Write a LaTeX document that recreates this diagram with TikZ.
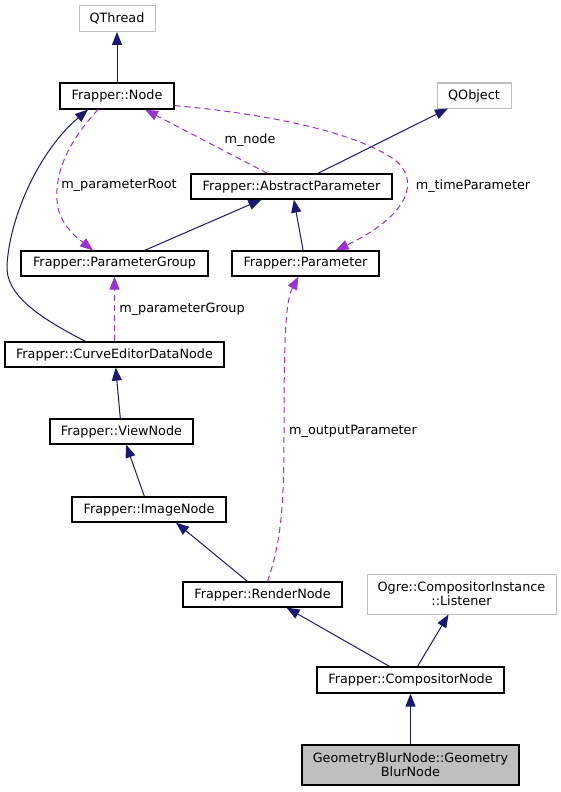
\documentclass[tikz,border=0pt]{standalone}
\usepackage{fontspec}
\setmainfont{DejaVu Sans}
\usetikzlibrary{arrows.meta,shapes,positioning}
\definecolor{inhblue}{HTML}{191970}
\definecolor{usepurple}{HTML}{9A32CD}
\definecolor{extgray}{HTML}{BFBFBF}
\tikzset{
  basic/.style  = {draw, rectangle, inner sep=0pt, minimum height=26bp,
                   align=center, font=\fontsize{12.8bp}{14bp}\selectfont},
  cls/.style    = {basic, draw=black, line width=1.2bp},
  ext/.style    = {basic, draw=extgray, line width=1bp},
  inherit/.style = {->, draw=inhblue, line width=1bp},
  uses/.style   = {->, draw=usepurple, line width=1bp, dash pattern=on 6bp off 4bp},
  lbl/.style    = {inner sep=0pt, font=\fontsize{12.8bp}{14bp}\selectfont}
}

\begin{document}
\begin{tikzpicture}[x=1bp, y=-1bp,
  >={Triangle[length=13bp,width=10bp]}]
\useasboundingbox (0,0) rectangle (561,792);

% classes
\node[ext, minimum width=76bp] (qthread) at (117,18.5) {QThread};
\node[cls, minimum width=114bp] (node) at (117,96) {Frapper::Node};
\node[ext, minimum width=74bp, minimum height=25bp] (qobject) at (474,95.5) {QObject\vphantom{Ng}};
\node[cls, minimum width=201bp, minimum height=25bp] (absparam) at (291.5,186.5) {Frapper::AbstractParameter};
\node[cls, minimum width=147bp, minimum height=25bp] (param) at (305.5,263.5) {Frapper::Parameter};
\node[cls, minimum width=187bp, minimum height=25bp] (pgroup) at (114.5,263.5) {Frapper::ParameterGroup};
\node[cls, minimum width=219bp, minimum height=25bp] (curve) at (114.5,354.5) {Frapper::CurveEditorDataNode};
\node[cls, minimum width=143bp, minimum height=25bp] (view) at (121.5,431.5) {Frapper::ViewNode};
\node[cls, minimum width=154bp, minimum height=25bp] (image) at (149,509.5) {Frapper::ImageNode};
\node[cls, minimum width=159bp, minimum height=25bp] (render) at (262.5,594.5) {Frapper::RenderNode};
\node[ext, minimum width=189bp, minimum height=40bp] (listener) at (461.5,594) {Ogre::CompositorInstance\\::Listener};
\node[cls, minimum width=187bp] (compositor) at (410.5,680) {Frapper::CompositorNode};
\node[cls, fill=extgray, minimum width=217bp, minimum height=40bp] (blur) at (410.5,765) {GeometryBlurNode::Geometry\\BlurNode};

% inheritance
\draw[inherit] (node) -- (qthread);
\draw[inherit] (absparam) -- (qobject);
\draw[inherit] (pgroup) -- (absparam);
\draw[inherit] (param) -- (absparam);
\draw[inherit] ([xshift=-29bp]curve.north) .. controls (40,318) and (5,295) .. (7,265)
  .. controls (10,215) and (40,150) .. ([xshift=-29bp]node.south);
\draw[inherit] (view) -- (curve);
\draw[inherit] (image) -- (view);
\draw[inherit] ([xshift=-15bp]render.north) -- ([xshift=27bp]image.south);
\draw[inherit] ([xshift=-21bp]compositor.north) -- ([xshift=24bp]render.south);
\draw[inherit] ([xshift=7bp]compositor.north) -- ([xshift=-13bp]listener.south);
\draw[inherit] (blur) -- (compositor);

% usage
\draw[uses] ([xshift=-19bp]node.south) .. controls (70,140) and (55,170) .. (57,200)
  .. controls (58,225) and (80,240) .. ([xshift=-21.5bp]pgroup.north);
\draw[uses] ([xshift=-24bp]absparam.north) -- ([xshift=28bp]node.south);
\draw[uses] ([yshift=4bp]node.south east) .. controls (280,115) and (360,135) .. (395,160)
  .. controls (420,180) and (410,215) .. ([xshift=30bp]param.north);
\draw[uses] (curve) -- (pgroup);
\draw[uses] ([xshift=5bp]render.north) .. controls (282,540) and (284,500) .. (284,430)
  .. controls (284,330) and (286,300) .. ([xshift=-7bp]param.south);

\node[lbl] (l1) at (119,185) {m\_parameterRoot};
\node[lbl] (l2) at (250,140) {m\_node};
\node[lbl] (l3) at (473,186) {m\_timeParameter};
\node[lbl] (l4) at (182,309) {m\_parameterGroup};
\node[lbl] (l5) at (353,431) {m\_outputParameter};
\end{tikzpicture}
\end{document}
